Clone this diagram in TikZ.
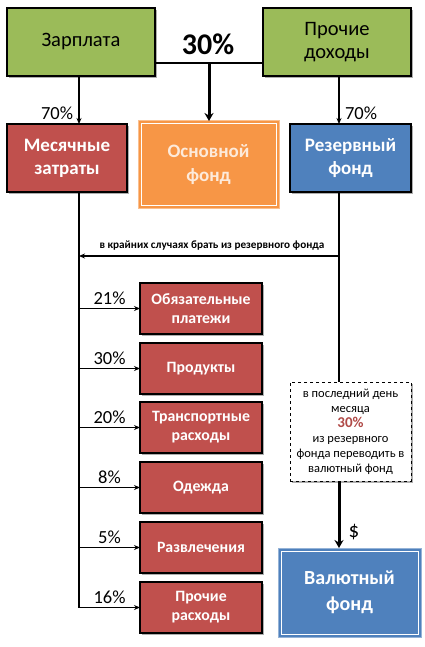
\documentclass[tikz,border=0pt]{standalone}
\usepackage{fontspec}
\setmainfont{Carlito}
\usetikzlibrary{arrows.meta,shadows,calc}
\definecolor{cgreen}{HTML}{9BBB59}
\definecolor{cred}{HTML}{C0504D}
\definecolor{corange}{HTML}{F79646}
\definecolor{cblue}{HTML}{4F81BD}
\definecolor{ccream}{HTML}{FDEADA}
\definecolor{cdred}{HTML}{B04A47}
\begin{document}
\begin{tikzpicture}[x=1pt,y=-1pt,
  box/.style={draw=black,line width=1.6pt,inner sep=0pt,outer sep=0pt,align=center,
     drop shadow={shadow xshift=1.6pt,shadow yshift=-1.6pt,opacity=0.45,fill=black!70}},
  incbox/.style={box,fill=cgreen,minimum width=148pt,minimum height=68pt,font=\fontsize{20.5}{23}\selectfont},
  redbox/.style={box,fill=cred,text=white,font=\bfseries\fontsize{19}{23}\selectfont},
  expbox/.style={box,fill=cred,text=white,minimum width=122pt,minimum height=51pt,font=\bfseries\fontsize{15.8}{19}\selectfont},
  fundbox/.style={fill=#1,draw=#1!60,line width=1pt,inner sep=0pt,outer sep=0pt,align=center,
     path picture={\draw[white,line width=1pt] ([shift={(3pt,-3pt)}]path picture bounding box.north west) rectangle ([shift={(-3pt,3pt)}]path picture bounding box.south east);}},
  arr/.style={line width=1.3pt,-{Stealth[length=6pt,width=5pt]}},
  thick arr/.style={line width=3pt,-{Stealth[length=8pt,width=9pt]}},
  pct/.style={font=\fontsize{18.5}{20}\selectfont,inner sep=0pt}
]
\useasboundingbox[fill=white] (0,0) rectangle (424,647);

\coordinate (L) at (79,0);
\coordinate (R) at (339,0);

\node[incbox] (zar) at (81,42) {Зарплата};
\node[incbox] (proch) at (337,42) {Прочие\\доходы};
\coordinate (mid) at (209,63);
\node[font=\bfseries\fontsize{30}{32}\selectfont,inner sep=0pt] (p30) at (208,44) {30\%};

\node[redbox,minimum width=120pt,minimum height=68pt] (mes) at (67,158) {Месячные\\затраты};
\node[fundbox=corange,minimum width=141pt,minimum height=87pt,text=ccream,font=\bfseries\fontsize{19}{24}\selectfont] (osn) at (208.5,164.5) {Основной\\фонд};
\node[box,fill=cblue,text=white,minimum width=121pt,minimum height=68pt,font=\bfseries\fontsize{19}{23}\selectfont] (rez) at (350.5,158) {Резервный\\фонд};

\draw[line width=2pt] (zar.east |- mid) -- (proch.west |- mid);
\draw[thick arr] (mid) -- (osn.north -| mid);
\draw[arr] (zar.south -| L) -- (mes.north -| L);
\draw[arr] (proch.south -| R) -- (rez.north -| R);
\node[pct] (p70a) at (57,113) {70\%};
\node[pct] (p70b) at (361,113) {70\%};

% expenses
\node[expbox] (e1) at (201,308.5) {Обязательные\\платежи};
\node[expbox] (e2) at (201,368.5) {Продукты};
\node[expbox] (e3) at (201,427.5) {Транспортные\\расходы};
\node[expbox] (e4) at (201,487.5) {Одежда};
\node[expbox] (e5) at (201,547.5) {Развлечения};
\node[expbox] (e6) at (201,607.5) {Прочие\\расходы};

\draw[line width=1.6pt] (mes.south -| L) -- (e6.west -| L);
\foreach \e/\p in {e1/21,e2/30,e3/20,e4/8,e5/5,e6/16}{
  \draw[arr] (\e.west -| L) -- (\e.west);
  \node[pct,anchor=south] at ([yshift=4pt]$(\e.west -| L)!0.5!(\e.west)$) {\p\%};
}

% reserve flows
\coordinate (hr) at (339,256);
\coordinate (hl) at (79,256);
\node[box,draw=black,line width=1pt,dashed,fill=white,drop shadow={opacity=0},minimum width=121pt,minimum height=99pt,font=\fontsize{12.5}{15}\selectfont] (dash) at (350.5,431.5)
  {в последний день\\месяца\\{\bfseries\color{cdred}\fontsize{15}{15}\selectfont 30\%}\\из резервного\\фонда переводить в\\валютный фонд};
\draw[line width=2.6pt] (rez.south -| R) -- (dash.north -| R);
\draw[arr] (hr) -- (hl);
\node[font=\bfseries\fontsize{11.2}{12}\selectfont,inner sep=0pt] (hlab) at (212,246) {в крайних случаях брать из резервного фонда};

\node[fundbox=cblue,minimum width=143pt,minimum height=89pt,text=white,font=\bfseries\fontsize{20}{26}\selectfont] (val) at (349.5,592.5) {Валютный\\фонд};
\draw[thick arr] (dash.south -| R) -- (val.north -| R);
\node[font=\fontsize{21}{22}\selectfont,inner sep=0pt] (dol) at (354,532) {\$};
\end{tikzpicture}
\end{document}
